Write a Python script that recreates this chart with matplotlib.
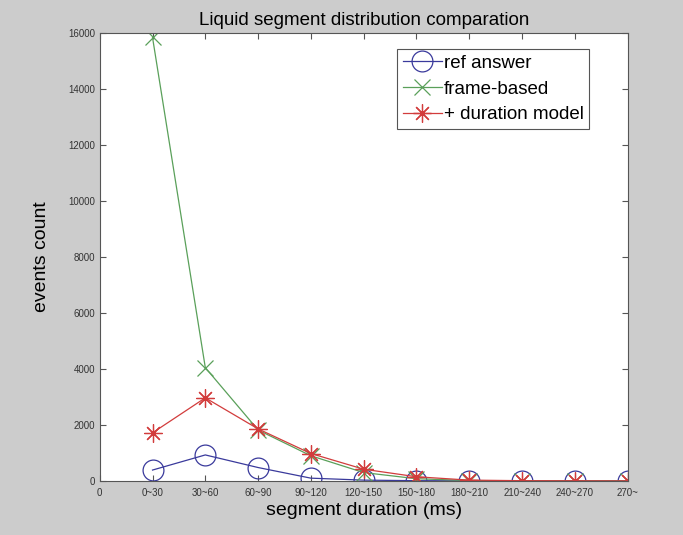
import numpy as np
import matplotlib.pyplot as plt

plt.rcParams['font.family'] = ['Liberation Sans', 'DejaVu Sans']

# segment duration bins and event counts per bin
bins = ['0', '0~30', '30~60', '60~90', '90~120', '120~150', '150~180',
        '180~210', '210~240', '240~270', '270~']
ref_answer = [390, 930, 480, 100, 30, 10, 5, 3, 2, 1]
frame_based = [15850, 4050, 1820, 900, 300, 80, 15, 6, 3, 1]
duration_model = [1720, 2970, 1860, 980, 420, 150, 30, 10, 5, 2]

x = np.arange(1, len(ref_answer) + 1)

fig = plt.figure(figsize=(6.83, 5.35), dpi=100)
fig.patch.set_facecolor('#cccccc')
ax = fig.add_axes([0.146, 0.101, 0.773, 0.837])

# matlab-style asterisk: eight spokes
star = (8, 2, 0)
ax.plot(x, ref_answer, '-o', color='#3a3a9c', mfc='none', ms=15, mew=0.9, lw=0.9,
        label='ref answer')
ax.plot(x, frame_based, '-x', color='#5aa05a', ms=11, mew=0.9, lw=0.9,
        label='frame-based')
ax.plot(x, duration_model, '-', marker=star, color='#d23c3c', ms=13, mew=0.9, lw=0.9,
        label='+ duration model')

ax.set_xlim(0, 10)
ax.set_ylim(0, 16000)
ax.set_xticks(np.arange(0, 11))
ax.set_xticklabels(bins, fontsize=7, color='#333333')
ax.set_yticks(np.arange(0, 16001, 2000))
ax.tick_params(axis='y', labelsize=7, labelcolor='#333333')
ax.tick_params(axis='x', pad=5)
ax.tick_params(direction='in', top=True, right=True, length=4, color='#555555')
for s in ax.spines.values():
    s.set_color('#555555')
    s.set_linewidth(0.8)

ax.set_title('Liquid segment distribution comparation', fontsize=13.5, pad=6)
ax.set_xlabel('segment duration (ms)', fontsize=14, labelpad=3)
ax.set_ylabel('events count', fontsize=14, labelpad=13)

leg = ax.legend(loc='upper right', bbox_to_anchor=(0.945, 0.985), fontsize=13.5,
                fancybox=False, framealpha=1, edgecolor='#555555',
                handlelength=2.1, handletextpad=0.1, borderpad=0.3,
                labelspacing=0.45)
leg.get_frame().set_linewidth(0.8)

fig.savefig('out.png', dpi=100, facecolor=fig.get_facecolor())
